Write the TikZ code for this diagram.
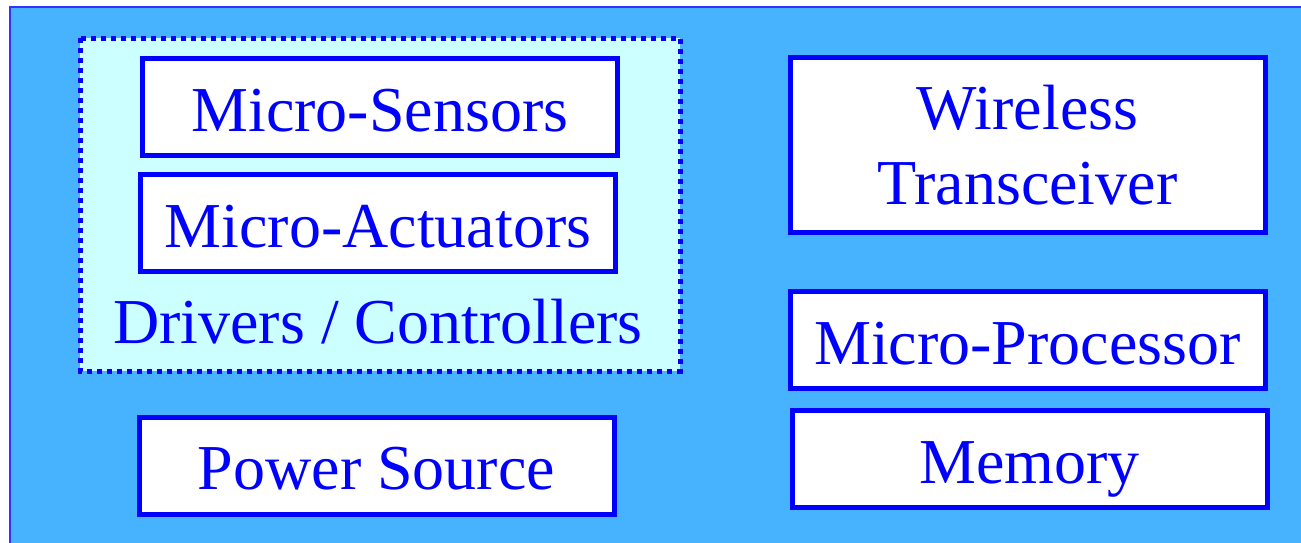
\documentclass[tikz,border=0pt]{standalone}
\usepackage{fontspec}
\setmainfont{Liberation Serif}
\usepackage{xcolor}
\usepackage{tikz}
\usetikzlibrary{positioning}

\definecolor{skyblue}{HTML}{47B3FF}
\definecolor{paleaqua}{HTML}{CCFFFF}

\begin{document}
\begin{tikzpicture}[x=0.5pt, y=-0.5pt, font=\fontsize{32}{37.5}\selectfont, text=blue,
  basebox/.style={draw=blue, line width=2.5pt, fill=white, align=center, minimum width=237.5pt, minimum height=48.5pt, inner sep=0pt},
  unit/.style={basebox, text height=30pt, text depth=6pt},
  group/.style={draw=blue, line width=2.5pt, dash pattern=on 2.5pt off 2.5pt, fill=paleaqua}]
\useasboundingbox (0,0) rectangle (1301,542);
\fill[skyblue, draw=blue!80, line width=0.8pt] (10,7) rectangle (1320,560);
\draw[group] (80,38) rectangle (680,371);
\node[unit] (sensors) at (380,107) {Micro-Sensors};
\node[unit] (actuators) at (378,223) {Micro-Actuators};
\node[text height=30pt, text depth=6pt, inner sep=0pt] (drivers) at (378,319) {Drivers / Controllers};
\node[unit] (power) at (376.5,465.5) {Power Source};
\node[basebox, minimum height=87.5pt] (wireless) at (1027.5,145) {Wireless\\Transceiver};
\node[unit] (processor) at (1027.5,340) {Micro-Processor};
\node[unit] (memory) at (1029.5,459) {Memory};
\end{tikzpicture}
\end{document}
